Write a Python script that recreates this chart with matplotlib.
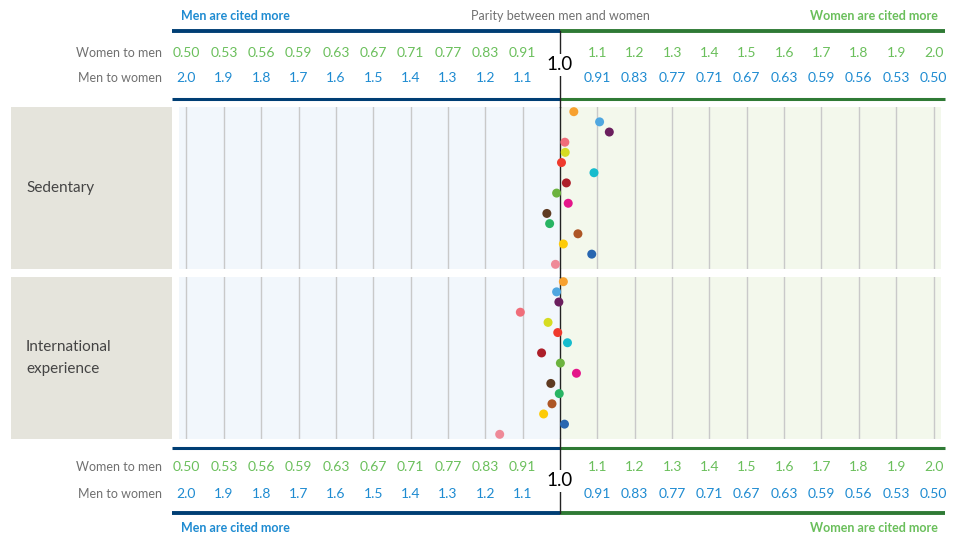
import numpy as np
import matplotlib
matplotlib.use("Agg")
import matplotlib.pyplot as plt
from matplotlib.transforms import blended_transform_factory

plt.rcParams["font.family"] = ["Lato", "DejaVu Sans"]

# women-to-men citation ratio for each dot (values < 1 mean men are cited more)
groups = ["Sedentary", "International\nexperience"]
sedentary = [1.037, 1.106, 1.132, 1.013, 1.014, 1.004, 1.091, 1.017,
             0.991, 1.022, 0.966, 0.973, 1.048, 1.009, 1.085, 0.988]
international = [1.009, 0.991, 0.997, 0.904, 0.969, 0.994, 1.020, 0.953,
                 1.001, 1.044, 0.976, 0.998, 0.979, 0.958, 1.012, 0.861]
dot_colors = ["#f7a12f", "#4fa7e0", "#6b1f5e", "#f06e7a", "#d6dc22", "#ef3a2d",
              "#16bccd", "#ad1f2a", "#6cb33f", "#e4168a", "#5f3b22", "#28b463",
              "#ad5626", "#fdcb07", "#2866b0", "#ef8a98"]

men_steps = [2.0, 1.9, 1.8, 1.7, 1.6, 1.5, 1.4, 1.3, 1.2, 1.1]
women_steps = [1.1, 1.2, 1.3, 1.4, 1.5, 1.6, 1.7, 1.8, 1.9, 2.0]
wm_labels = ["0.50", "0.53", "0.56", "0.59", "0.63", "0.67", "0.71", "0.77", "0.83", "0.91",
             "1.1", "1.2", "1.3", "1.4", "1.5", "1.6", "1.7", "1.8", "1.9", "2.0"]
mw_labels = ["2.0", "1.9", "1.8", "1.7", "1.6", "1.5", "1.4", "1.3", "1.2", "1.1",
             "0.91", "0.83", "0.77", "0.71", "0.67", "0.63", "0.59", "0.56", "0.53", "0.50"]
tick_ratios = [1 / m for m in men_steps] + women_steps

GREEN_T = "#6abf5b"
BLUE_T = "#1e8bd1"
GRAY_T = "#707070"
NAVY = "#003e74"
DKGREEN = "#2f7a35"


def forward(r):
    r = np.asarray(r, dtype=float)
    with np.errstate(divide="ignore", invalid="ignore"):
        return np.where(r >= 1, 10 * (r - 1), -10 * (1 / r - 1))


def inverse(p):
    p = np.asarray(p, dtype=float)
    with np.errstate(divide="ignore", invalid="ignore"):
        return np.where(p >= 0, 1 + p / 10, 1 / (1 - p / 10))


W, H = 962, 540
fig = plt.figure(figsize=(W / 100, H / 100), dpi=100)


def px_axes(x0, y0, x1, y1):
    return fig.add_axes([x0 / W, 1 - y1 / H, (x1 - x0) / W, (y1 - y0) / H])


xmin, xmax = float(inverse(-10.2)), float(inverse(10.2))

panels = []
for i, (name, vals) in enumerate(zip(groups, [sedentary, international])):
    y0 = 107 + i * 170
    y1 = y0 + 162
    # grey label box
    lab = px_axes(11, y0, 172, y1)
    lab.set_facecolor("#e5e4dc")
    lab.set_xticks([])
    lab.set_yticks([])
    for s in lab.spines.values():
        s.set_visible(False)
    lab.text(15 / 161, 0.5, name, transform=lab.transAxes, ha="left", va="center",
             fontsize=11, color="#444444", linespacing=1.65)

    ax = px_axes(179, y0, 941, y1)
    ax.set_xscale("function", functions=(forward, inverse))
    ax.set_xlim(xmin, xmax)
    ax.axvspan(xmin, 1.0, color="#f2f7fc", zorder=0, lw=0)
    ax.axvspan(1.0, xmax, color="#f3f8ec", zorder=0, lw=0)
    ax.set_xticks(tick_ratios)
    ax.grid(axis="x", color="#c9c9c9", lw=1, zorder=1)
    ax.tick_params(length=0, labelbottom=False, labelleft=False)
    ax.set_yticks([])
    ax.minorticks_off()
    for s in ax.spines.values():
        s.set_visible(False)
    ax.axvline(1.0, color="#222222", lw=1, zorder=2)
    ax.scatter(vals, range(len(vals)), c=dot_colors, s=42, linewidths=0, zorder=3)
    ax.set_ylim(len(vals) - 0.54, -0.46)
    panels.append(ax)

ref = panels[0]
ov = fig.add_axes([0, 0, 1, 1])
ov.set_xlim(0, W)
ov.set_ylim(H, 0)
ov.axis("off")
fig.canvas.draw()
cx = ref.transData.transform((1.0, 0))[0]
tr = blended_transform_factory(ref.transData, ov.transData)

# header / footer rules
for y, lw in [(31, 2.8), (98.5, 2.2), (447.5, 2.2), (513, 2.8)]:
    ov.plot([172, cx], [y, y], color=NAVY, lw=lw, solid_capstyle="butt")
    ov.plot([cx, 945], [y, y], color=DKGREEN, lw=lw, solid_capstyle="butt")

# centre line segments outside the panels
for ya, yb in [(31, 107), (269, 277), (439, 513)]:
    ov.plot([cx, cx], [ya, yb], color="#222222", lw=1)

for y_wm, y_mw, y_one in [(53, 78, 65), (467, 494, 481)]:
    ov.text(162, y_wm, "Women to men", ha="right", va="center", fontsize=9, color=GRAY_T)
    ov.text(162, y_mw, "Men to women", ha="right", va="center", fontsize=9, color=GRAY_T)
    for t, a, b in zip(tick_ratios, wm_labels, mw_labels):
        ov.text(t, y_wm, a, transform=tr, ha="center", va="center", fontsize=10, color=GREEN_T)
        ov.text(t, y_mw, b, transform=tr, ha="center", va="center", fontsize=10, color=BLUE_T)
    ov.text(1.0, y_one, "1.0", transform=tr, ha="center", va="center", fontsize=13.5,
            color="black", bbox=dict(facecolor="white", edgecolor="none", pad=2))

for y in [16, 528]:
    ov.text(181, y, "Men are cited more", ha="left", va="center", fontsize=9,
            fontweight="bold", color=BLUE_T)
    ov.text(938, y, "Women are cited more", ha="right", va="center", fontsize=9,
            fontweight="bold", color=GREEN_T)
ov.text(cx, 16, "Parity between men and women", ha="center", va="center",
        fontsize=9, color=GRAY_T)

fig.savefig("out.png", dpi=100)
